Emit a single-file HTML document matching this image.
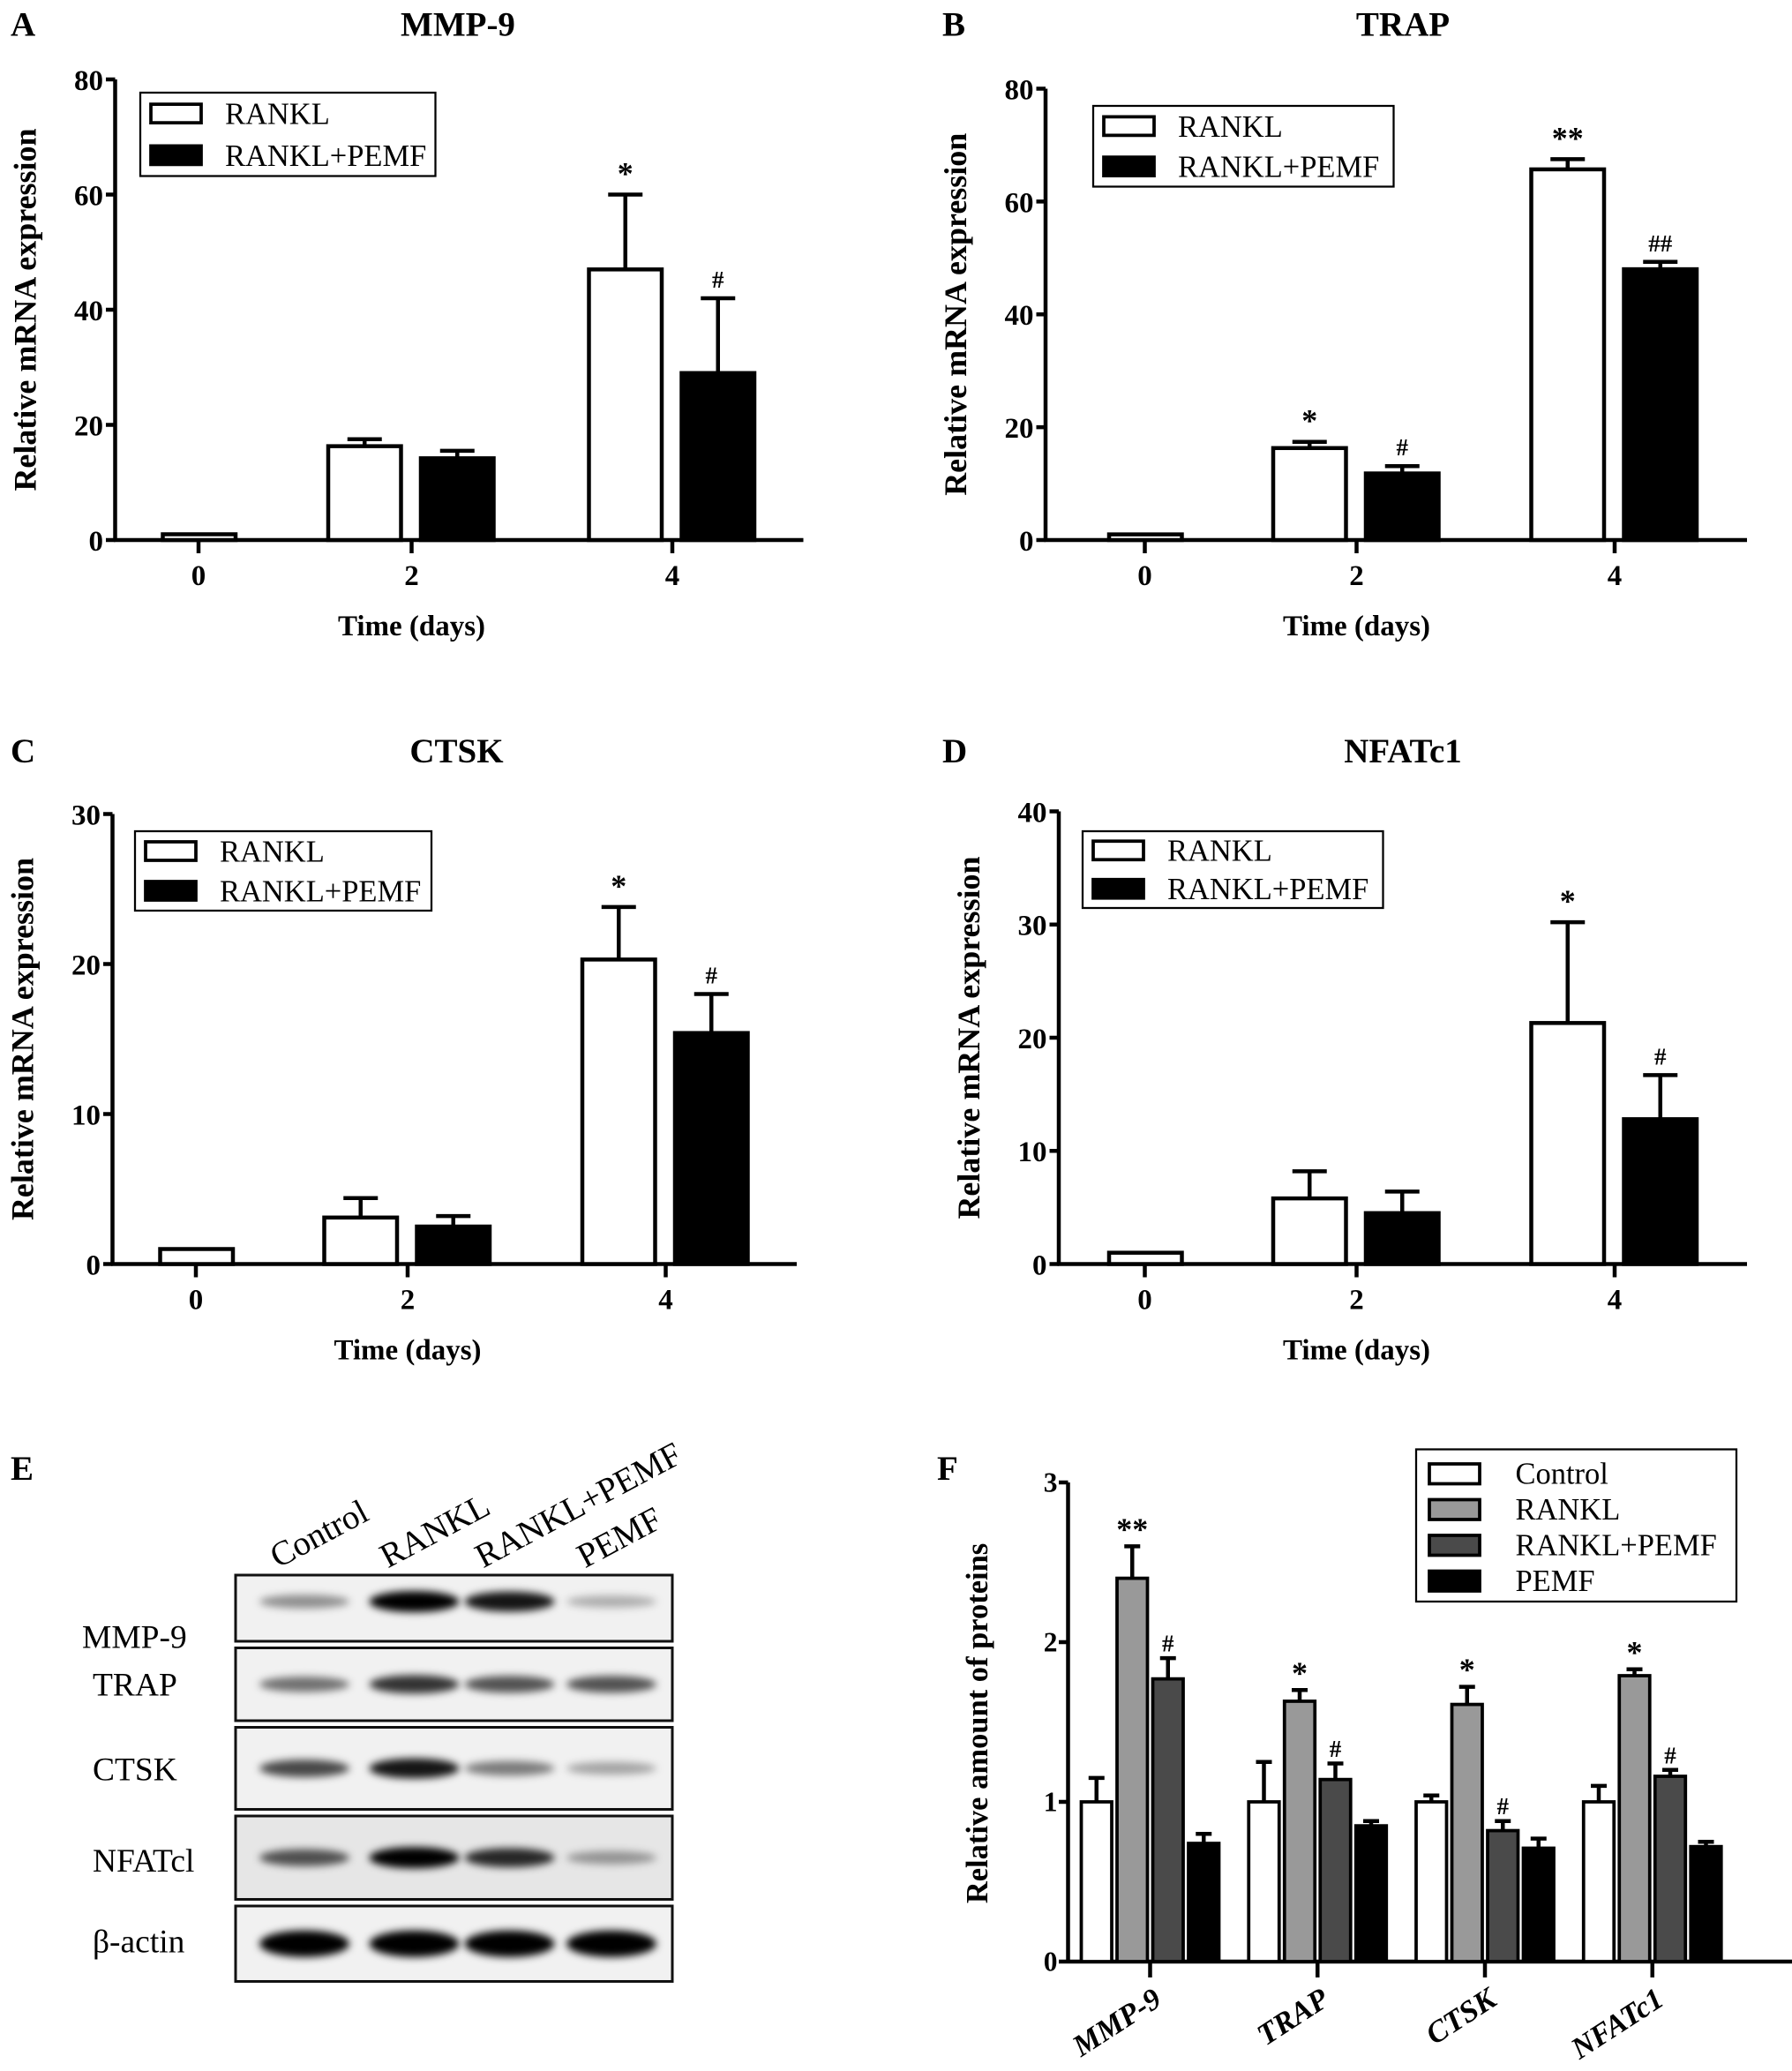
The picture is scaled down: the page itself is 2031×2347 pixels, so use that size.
<!DOCTYPE html>
<html><head><meta charset="utf-8"><style>
html,body{margin:0;padding:0;background:#fff}
svg{display:block}
text{font-family:"Liberation Serif",serif;fill:#000}
</style></head><body>
<svg id="fig" width="2031" height="2347" viewBox="0 0 1354 1564.67" preserveAspectRatio="none" xmlns="http://www.w3.org/2000/svg">
<defs><filter id="blur" x="-50%" y="-100%" width="200%" height="300%"><feGaussianBlur stdDeviation="3"/></filter></defs>
<g id="root"></g>
</svg>
<script>
// ---- data ----
const timeCats = ["0","2","4"];
const mmp9Rankl = [1, 16.3, 47];
const mmp9RanklErr = [0, 1.2, 13];
const mmp9Pemf = [null, 14.2, 29];
const mmp9PemfErr = [0, 1.3, 13];
const trapRankl = [1, 16.3, 65.7];
const trapRanklErr = [0, 1.1, 1.8];
const trapPemf = [null, 11.8, 48];
const trapPemfErr = [0, 1.3, 1.3];
const ctskRankl = [1, 3.1, 20.3];
const ctskRanklErr = [0, 1.3, 3.5];
const ctskPemf = [null, 2.5, 15.4];
const ctskPemfErr = [0, 0.7, 2.6];
const nfatRankl = [1, 5.8, 21.3];
const nfatRanklErr = [0, 2.4, 8.9];
const nfatPemf = [null, 4.5, 12.8];
const nfatPemfErr = [0, 1.9, 3.9];
const marksA = [["",""],["",""],["*","#"]];
const marksB = [["",""],["*","#"],["**","##"]];
const marksC = [["",""],["",""],["*","#"]];
const marksD = [["",""],["",""],["*","#"]];
const ticksA = [0,20,40,60,80];
const ticksB = [0,20,40,60,80];
const ticksC = [0,10,20,30];
const ticksD = [0,10,20,30,40];

const protCats = ["MMP-9","TRAP","CTSK","NFATc1"];
const protSeries = ["Control","RANKL","RANKL+PEMF","PEMF"];
const protControl = [1,1,1,1];
const protControlErr = [0.15,0.25,0.04,0.1];
const protRankl = [2.4,1.63,1.61,1.79];
const protRanklErr = [0.2,0.07,0.11,0.04];
const protRP = [1.77,1.14,0.82,1.16];
const protRPErr = [0.13,0.1,0.06,0.04];
const protPemf = [0.74,0.85,0.71,0.72];
const protPemfErr = [0.06,0.03,0.06,0.03];
const protMarks = [["","**","#",""],["","*","#",""],["","*","#",""],["","*","#",""]];
const protTicks = [0,1,2,3];

const lanes = ["Control","RANKL","RANKL+PEMF","PEMF"];
const blotRows = ["MMP-9","TRAP","CTSK","NFATcl","β-actin"];
const blotIntensity = [[0.3,1,0.9,0.15],[0.45,0.75,0.6,0.6],[0.65,0.9,0.4,0.2],[0.6,1,0.8,0.25],[1,1,1,1]];

const NS="http://www.w3.org/2000/svg";
const root=document.getElementById('root');
function el(tag,attrs,parent,txt){const e=document.createElementNS(NS,tag);for(const k in attrs)e.setAttribute(k,attrs[k]);if(txt!==undefined)e.textContent=txt;(parent||root).appendChild(e);return e;}

function barPanel(o){
  const g=el('g',{});
  
  
  const ys=v=>o.y0-(v/o.ymax)*(o.y0-o.ytop);
  el('line',{x1:o.ax,y1:o.ytop,x2:o.ax,y2:o.y0+1,stroke:'#000','stroke-width':3},g);
  el('line',{x1:o.ax-1,y1:o.y0,x2:o.xend,y2:o.y0,stroke:'#000','stroke-width':3},g);
  o.ticks.forEach(t=>{const y=ys(t);
    el('line',{x1:o.ax-7,y1:y,x2:o.ax,y2:y,stroke:'#000','stroke-width':3},g);
    const tx=el('text',{x:o.ax-9,y:y+8,'text-anchor':'end','font-size':22,'font-weight':'bold'},g,String(t));
    });
  timeCats.forEach((c,i)=>{const cx=o.gx[i];
    el('line',{x1:cx,y1:o.y0,x2:cx,y2:o.y0+10,stroke:'#000','stroke-width':3},g);
    const tx=el('text',{x:cx,y:o.y0+34,'text-anchor':'middle','font-size':22,'font-weight':'bold'},g,c);
    
    const bw=55;
    const series=[[o.r,o.re,'#fff'],[o.p,o.pe,'#000']];
    series.forEach((s,k)=>{const v=s[0][i];if(v===null)return;
      const single=o.p[i]===null;
      const x=single?cx-27:(k===0?cx-63:cx+7);
      const y=ys(v);
      const r=el('rect',{x:x,y:y,width:bw,height:o.y0-y,fill:s[2],stroke:'#000','stroke-width':3},g);
      
      
      const e=s[1][i];
      if(e>0){const ye=ys(v+e),mx=x+bw/2;
        el('line',{x1:mx,y1:y,x2:mx,y2:ye,stroke:'#000','stroke-width':3},g);
        el('line',{x1:mx-13,y1:ye,x2:mx+13,y2:ye,stroke:'#000','stroke-width':3},g);
        const m=o.marks[i][k];
        if(m){const t=el('text',{x:mx,y:ye-8,'text-anchor':'middle','font-size':m.includes('#')?18:24,'font-weight':'bold'},g,m);
          }
      }});
  });
  const tl=el('text',{x:o.tx,y:o.ty,'text-anchor':'middle','font-size':26,'font-weight':'bold'},g,o.title);
  
  const lt=el('text',{x:o.lx,y:o.ty,'font-size':26,'font-weight':'bold'},g,o.letter);
  
  const yl=el('text',{transform:`translate(${o.ax-60},${(o.y0+o.ytop)/2}) rotate(-90)`,'text-anchor':'middle','font-size':24,'font-weight':'bold'},g,'Relative mRNA expression');
  
  const xl=el('text',{x:o.gx[1],y:o.y0+72,'text-anchor':'middle','font-size':22,'font-weight':'bold'},g,'Time (days)');
  
  const L=o.leg;
  const lg=el('g',{},g);
  el('rect',{x:L[0],y:L[1],width:L[2],height:L[3],fill:'#fff',stroke:'#000','stroke-width':1.5},lg);
  const rh=L[3]/2;
  [['RANKL','#fff'],['RANKL+PEMF','#000']].forEach((s,k)=>{
    const yy=L[1]+rh*k+rh/2;
    el('rect',{x:L[0]+8,y:yy-7,width:38,height:14,fill:s[1],stroke:'#000','stroke-width':2.5},lg);
    const t=el('text',{x:L[0]+64,y:yy+8,'font-size':23},lg,s[0]);
    
  });
}

barPanel({name:'panel-a-mmp9',ax:87,y0:408,ytop:60,ymax:80,xend:607,gx:[150,311,508],ticks:ticksA,r:mmp9Rankl,re:mmp9RanklErr,p:mmp9Pemf,pe:mmp9PemfErr,marks:marksA,title:'MMP-9',tx:346,ty:27,letter:'A',lx:8,leg:[106,70,223,63]});
barPanel({name:'panel-b-trap',ax:790,y0:408,ytop:67,ymax:80,xend:1320,gx:[865,1025,1220],ticks:ticksB,r:trapRankl,re:trapRanklErr,p:trapPemf,pe:trapPemfErr,marks:marksB,title:'TRAP',tx:1060,ty:27,letter:'B',lx:712,leg:[826,80,227,61]});
barPanel({name:'panel-c-ctsk',ax:85,y0:955,ytop:615,ymax:30,xend:602,gx:[148,308,503],ticks:ticksC,r:ctskRankl,re:ctskRanklErr,p:ctskPemf,pe:ctskPemfErr,marks:marksC,title:'CTSK',tx:345,ty:576,letter:'C',lx:8,leg:[102,628,224,60]});
barPanel({name:'panel-d-nfatc1',ax:800,y0:955,ytop:613,ymax:40,xend:1320,gx:[865,1025,1220],ticks:ticksD,r:nfatRankl,re:nfatRanklErr,p:nfatPemf,pe:nfatPemfErr,marks:marksD,title:'NFATc1',tx:1060,ty:576,letter:'D',lx:712,leg:[818,628,227,58]});

// ---- Panel F ----
(function(){
  const g=el('g',{});
  const ax=807,y0=1482,ytop=1120,ymax=3;
  const ys=v=>y0-(v/ymax)*(y0-ytop);
  el('line',{x1:ax,y1:ytop,x2:ax,y2:y0,stroke:'#000','stroke-width':3},g);
  el('line',{x1:ax,y1:y0,x2:1355,y2:y0,stroke:'#000','stroke-width':3},g);
  protTicks.forEach(t=>{const y=ys(t);el('line',{x1:ax-7,y1:y,x2:ax,y2:y,stroke:'#000','stroke-width':3},g);
    const tx=el('text',{x:ax-8,y:y+7,'text-anchor':'end','font-size':21,'font-weight':'bold'},g,String(t));
    });
  const vals=[protControl,protRankl,protRP,protPemf];
  const errs=[protControlErr,protRanklErr,protRPErr,protPemfErr];
  const cols=['#fff','#999','#4a4a4a','#000'];
  const bw=23,step=27,gstep=126.5,gx0=817;
  protCats.forEach((c,i)=>{
    const gs=gx0+i*gstep;
    const cx=gs+step*2-2;
    el('line',{x1:cx,y1:y0,x2:cx,y2:y0+12,stroke:'#000','stroke-width':3},g);
    const t=el('text',{transform:`translate(${cx+10},${y0+32}) rotate(-33)`,'text-anchor':'end','font-size':23,'font-weight':'bold','font-style':'italic'},g,c);
    
    vals.forEach((s,k)=>{const v=s[i],x=gs+k*step,y=ys(v);
      const r=el('rect',{x:x,y:y,width:bw,height:y0-y,fill:cols[k],stroke:'#000','stroke-width':2.5},g);
      
      
      const ye=ys(v+errs[k][i]),mx=x+bw/2;
      el('line',{x1:mx,y1:y,x2:mx,y2:ye,stroke:'#000','stroke-width':3},g);
      el('line',{x1:mx-6,y1:ye,x2:mx+6,y2:ye,stroke:'#000','stroke-width':3},g);
      const m=protMarks[i][k];
      if(m){const mt=el('text',{x:mx,y:ye-5,'text-anchor':'middle','font-size':m.includes('#')?18:24,'font-weight':'bold'},g,m);
        }
    });
  });
  const yl=el('text',{transform:`translate(746,1302) rotate(-90)`,'text-anchor':'middle','font-size':23,'font-weight':'bold'},g,'Relative amount of proteins');
  
  const lt=el('text',{x:708,y:1118,'font-size':26,'font-weight':'bold'},g,'F');
  
  const lg=el('g',{},g);
  el('rect',{x:1070,y:1095,width:242,height:115,fill:'#fff',stroke:'#000','stroke-width':1.5},lg);
  protSeries.forEach((s,k)=>{const yy=1113+k*27;
    el('rect',{x:1080,y:yy-7,width:38,height:15,fill:cols[k],stroke:'#000','stroke-width':2.5},lg);
    const t=el('text',{x:1145,y:yy+8,'font-size':23},lg,s);
    });
})();

// ---- Panel E (western blot) ----
(function(){
  const g=el('g',{});
  const lt=el('text',{x:8,y:1118,'font-size':26,'font-weight':'bold'},g,'E');
  
  const laneX=[230,313,385,462];
  const rowsY=[[1190,1240],[1245,1300],[1305,1367],[1372,1435],[1440,1497]];
  const labelY=[1245,1281,1345,1414,1475];
  lanes.forEach((l,i)=>{const t=el('text',{transform:`translate(${laneX[i]-20},${1185}) rotate(-28)`,'font-size':26},g,l);
    });
  blotRows.forEach((r,j)=>{
    const [a,b]=rowsY[j];
    const box=el('rect',{x:178,y:a,width:330,height:b-a,fill:j===3?'#e6e6e6':'#f1f1f1',stroke:'#111','stroke-width':2},g);
    
    const t=el('text',{x:j===0?62:70,y:labelY[j],'font-size':25},g,r);
    
    const cy=j===0?(a+b)/2-5:(a+b)/2;
    lanes.forEach((l,i)=>{const v=blotIntensity[j][i];
      const band=el('ellipse',{cx:laneX[i],cy:cy,rx:34,ry:4+v*(j===4?6:4),fill:'#000','fill-opacity':Math.min(1,0.15+v*0.85),filter:'url(#blur)'},g);
      });
  });
})();
</script>
</body></html>
